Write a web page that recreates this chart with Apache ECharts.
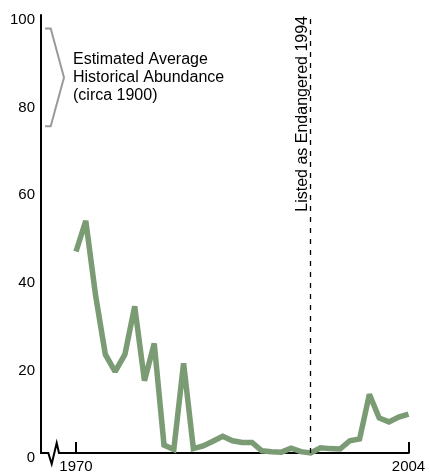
<!DOCTYPE html>
<html><head><meta charset="utf-8">
<script src="https://cdn.jsdelivr.net/npm/echarts@6/dist/echarts.min.js"></script>
<style>html,body{margin:0;padding:0;background:#fff}#c{width:430px;height:476px}</style>
</head><body><div id="c"></div>
<script>
// ---- data ----
const years = [1970,1971,1972,1973,1974,1975,1976,1977,1978,1979,1980,1981,1982,1983,1984,1985,1986,1987,1988,1989,1990,1991,1992,1993,1994,1995,1996,1997,1998,1999,2000,2001,2002,2003,2004];
const abundance = [46,53,36,22.5,18.6,22.5,33.5,16.5,25,1.8,0.8,20.5,1.0,1.6,2.7,3.8,2.8,2.4,2.4,0.5,0.3,0.2,1.1,0.3,0,1.2,1.0,0.9,2.8,3.2,13.4,8.0,7.1,8.2,8.9];
const yTicks = [0,20,40,60,80,100];
const xTickLabels = [1970,2004];
const listingYear = 1994;
const listingLabel = 'Listed as Endangered 1994';
const historicalRange = [74.6, 96.9];
const historicalLabel = ['Estimated Average','Historical Abundance','(circa 1900)'];

const FONT = 'Helvetica, "Liberation Sans", Arial, sans-serif';
const chart = echarts.init(document.getElementById('c'), null, {renderer:'canvas'});
const xMin = 1966.42, xMax = 2004;
chart.setOption({
  animation:false,
  backgroundColor:'#fff',
  grid:{left:41,right:21.5,top:15,bottom:23,containLabel:false,outerBoundsMode:'none'},
  xAxis:{type:'value',min:xMin,max:xMax,
    axisLine:{show:false},splitLine:{show:false},
    axisTick:{show:true,customValues:xTickLabels,inside:true,length:11,lineStyle:{color:'#000',width:2}},
    axisLabel:{show:true,customValues:xTickLabels,margin:6,fontSize:15,color:'#000',fontFamily:FONT,formatter:v=>String(v)}},
  yAxis:{type:'value',min:yTicks[0],max:yTicks[yTicks.length-1],interval:20,
    axisLine:{show:true,lineStyle:{color:'#000',width:2}},
    axisTick:{show:false},splitLine:{show:false},
    axisLabel:{margin:6,fontSize:15,color:'#000',fontFamily:FONT,verticalAlign:'top',lineHeight:10}},
  series:[{
    type:'line',data:years.map((y,i)=>[y,abundance[i]]),symbol:'none',clip:false,z:3,
    lineStyle:{color:'#7a9b73',width:5.5,join:'miter',miterLimit:2},
    markLine:{silent:true,symbol:['none','none'],label:{show:false},
      lineStyle:{type:[5,6],color:'#000',width:1.3},
      data:[{xAxis:listingYear}]}
  }]
});

const P = (x,y)=>chart.convertToPixel({gridIndex:0},[x,y]);
const o = P(xMin,0), e = P(xMax,0);
const x0=o[0], y0=o[1];
const bTop = P(xMin,historicalRange[1])[1], bBot = P(xMin,historicalRange[0])[1];
const bMid = (bTop+bBot)/2;
const lx = P(listingYear,100);
chart.setOption({graphic:[
  {type:'polyline',z:1,shape:{points:[[x0-1,y0],[x0+7.3,y0],[x0+10.7,y0+11],[x0+15.7,y0-10],[x0+18,y0],[e[0]+1,y0]]},
    style:{stroke:'#000',lineWidth:2,fill:null,lineJoin:'miter'}},
  {type:'polyline',z:5,shape:{points:[[x0+4,bTop],[x0+9.7,bTop],[x0+23,bMid],[x0+9.7,bBot],[x0+4,bBot]]},
    style:{stroke:'#9a9a9a',lineWidth:2,fill:null,lineJoin:'miter'}},
  {type:'text',z:5,x:x0+32,y:bMid,style:{text:historicalLabel.join('\n'),font:'16px '+FONT,fill:'#000',lineHeight:18,align:'left',verticalAlign:'middle'}},
  {type:'text',z:5,x:lx[0]-8.5,y:lx[1]+1,rotation:Math.PI/2,style:{text:listingLabel,font:'16px '+FONT,fill:'#000',align:'right',verticalAlign:'middle'}}
]});
</script></body></html>
